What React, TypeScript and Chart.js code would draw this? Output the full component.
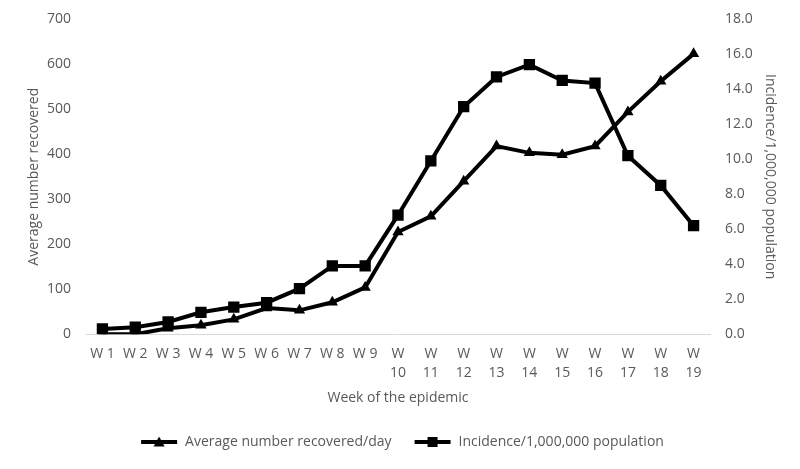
import React, { useEffect, useRef } from "react";
import { Chart, registerables } from "chart.js";

Chart.register(...registerables);

const weeks: (string | string[])[] = [
  "W 1", "W 2", "W 3", "W 4", "W 5", "W 6", "W 7", "W 8", "W 9",
  ["W", "10"], ["W", "11"], ["W", "12"], ["W", "13"], ["W", "14"],
  ["W", "15"], ["W", "16"], ["W", "17"], ["W", "18"], ["W", "19"],
];

const recovered = [0, 0, 13, 20, 33, 58, 53, 71, 104, 227, 262, 340, 418, 403, 399, 418, 494, 562, 623];
const incidence = [0.3, 0.4, 0.7, 1.25, 1.55, 1.8, 2.6, 3.9, 3.9, 6.8, 9.9, 13.0, 14.7, 15.4, 14.5, 14.35, 10.2, 8.5, 6.2];

const recoveredLabel = "Average number recovered/day";
const incidenceLabel = "Incidence/1,000,000 population";

const FONT = "'Open Sans', sans-serif";
const GRAY = "#595959";

function legendIcon(shape: "triangle" | "rect"): HTMLCanvasElement {
  const c = document.createElement("canvas");
  c.width = 38;
  c.height = 12;
  const ctx = c.getContext("2d")!;
  ctx.strokeStyle = "#000";
  ctx.fillStyle = "#000";
  ctx.lineWidth = 4;
  ctx.beginPath();
  ctx.moveTo(1, 6);
  ctx.lineTo(37, 6);
  ctx.stroke();
  ctx.beginPath();
  if (shape === "triangle") {
    ctx.moveTo(19, 0.5);
    ctx.lineTo(24.5, 10.5);
    ctx.lineTo(13.5, 10.5);
    ctx.closePath();
  } else {
    ctx.rect(14, 1, 10, 10);
  }
  ctx.fill();
  return c;
}

export default function App() {
  const ref = useRef<HTMLCanvasElement>(null);
  useEffect(() => {
    if (!ref.current) return;
    const triIcon = legendIcon("triangle");
    const sqIcon = legendIcon("rect");
    const chart = new Chart(ref.current, {
      type: "line",
      data: {
        labels: weeks,
        datasets: [
          {
            label: recoveredLabel,
            data: recovered,
            yAxisID: "y",
            borderColor: "#000",
            backgroundColor: "#000",
            borderWidth: 4,
            pointStyle: "triangle",
            pointRadius: 6.5,
            pointBorderWidth: 0,
            tension: 0,
          },
          {
            label: incidenceLabel,
            data: incidence,
            yAxisID: "y1",
            borderColor: "#000",
            backgroundColor: "#000",
            borderWidth: 4,
            pointStyle: "rect",
            pointRadius: 8,
            pointBorderWidth: 0,
            tension: 0,
          },
        ],
      },
      options: {
        animation: false,
        responsive: true,
        maintainAspectRatio: false,
        layout: { padding: { left: 22, right: 18, top: 5, bottom: 10 } },
        plugins: {
          tooltip: { enabled: false },
          legend: {
            position: "bottom",
            labels: {
              usePointStyle: true,
              pointStyleWidth: 38,
              padding: 22,
              color: GRAY,
              font: { family: FONT, size: 14 },
              generateLabels: () => [
                { text: recoveredLabel, pointStyle: triIcon, fontColor: GRAY, datasetIndex: 0, lineWidth: 0, strokeStyle: "transparent", fillStyle: "transparent" },
                { text: incidenceLabel, pointStyle: sqIcon, fontColor: GRAY, datasetIndex: 1, lineWidth: 0, strokeStyle: "transparent", fillStyle: "transparent" },
              ],
            },
          },
        },
        scales: {
          x: {
            offset: true,
            grid: { display: false, drawTicks: false },
            border: { display: true, color: "#d9d9d9", width: 1 },
            ticks: { color: GRAY, font: { family: FONT, size: 14, lineHeight: 1.35 }, maxRotation: 0, autoSkip: false, padding: 10 },
            title: { display: true, text: "Week of the epidemic", color: GRAY, font: { family: FONT, size: 14, lineHeight: 1.0 }, padding: { top: -1, bottom: 8 } },
          },
          y: {
            position: "left",
            min: 0,
            max: 700,
            afterFit: (axis: any) => { axis.width = 64; },
            ticks: { stepSize: 100, color: GRAY, font: { family: FONT, size: 14, lineHeight: 0.6 }, padding: 15 },
            grid: { display: false, drawTicks: false },
            border: { display: false },
            title: { display: true, text: "Average number recovered", color: GRAY, font: { family: FONT, size: 14 } },
          },
          y1: {
            position: "right",
            min: 0,
            max: 18,
            afterFit: (axis: any) => { axis.width = 72; },
            ticks: { stepSize: 2, color: GRAY, font: { family: FONT, size: 14, lineHeight: 0.6 }, padding: 15, callback: (v: any) => Number(v).toFixed(1) },
            grid: { display: false, drawTicks: false },
            border: { display: false },
            title: { display: true, text: "Incidence/1,000,000 population", color: GRAY, font: { family: FONT, size: 14 } },
          },
        },
      },
    } as any);
    return () => chart.destroy();
  }, []);
  return (
    <div style={{ position: "fixed", left: 0, top: 0, width: 800, height: 469, background: "#fff" }}>
      <canvas ref={ref} />
    </div>
  );
}
